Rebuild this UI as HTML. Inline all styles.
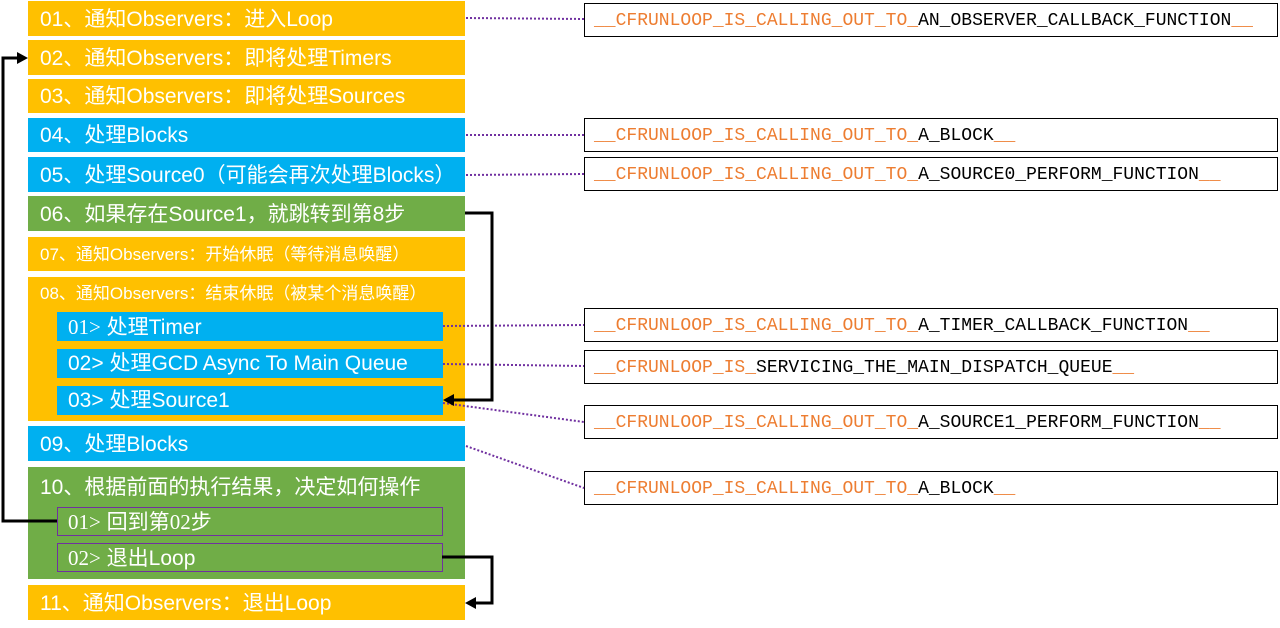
<!DOCTYPE html>
<html><head><meta charset="utf-8"><style>
body{margin:0;width:1280px;height:628px;background:#fff;position:relative;overflow:hidden;font-family:"Liberation Sans","Noto Sans CJK SC",sans-serif}
.b{position:absolute;left:28px;width:437px;color:#fff;font-size:21px;box-sizing:border-box;padding-left:12px;padding-top:2px;white-space:nowrap}
.o{background:#FFC000}.bl{background:#00B0F0}.g{background:#70AD47}
.s{position:absolute;left:57px;width:386px;color:#fff;font-size:21px;box-sizing:border-box;padding-left:11px;padding-top:1px;white-space:nowrap}
.r{position:absolute;left:584px;width:694px;height:34px;border:1.5px solid #000;box-sizing:border-box;font-family:"Liberation Mono",monospace;font-size:18px;line-height:31px;padding-left:9px;padding-top:2px;white-space:nowrap;color:#000}
.r span{color:#ED7D31}
svg{position:absolute;left:0;top:0}
</style></head><body>
<div class="b o" style="top:1px;height:35px;line-height:33px">01、通知Observers：进入Loop</div>
<div class="b o" style="top:40px;height:35px;line-height:33px">02、通知Observers：即将处理Timers</div>
<div class="b o" style="top:79px;height:34px;line-height:32px">03、通知Observers：即将处理Sources</div>
<div class="b bl" style="top:118px;height:34px;line-height:32px">04、处理Blocks</div>
<div class="b bl" style="top:157px;height:35px;line-height:33px">05、处理Source0（可能会再次处理Blocks）</div>
<div class="b g" style="top:196px;height:35px;line-height:33px">06、如果存在Source1，就跳转到第8步</div>
<div class="b o" style="top:237px;height:34px;line-height:32px;font-size:17px">07、通知Observers：开始休眠（等待消息唤醒）</div>
<div class="b o" style="top:277px;height:144px;line-height:30px;font-size:17px">08、通知Observers：结束休眠（被某个消息唤醒）</div>
<div class="s bl" style="top:312px;height:29px;line-height:28px"><span style="font-family:'Liberation Serif',serif">01&gt;</span> 处理Timer</div>
<div class="s bl" style="top:349px;height:29px;line-height:28px">02&gt; 处理GCD Async To Main Queue</div>
<div class="s bl" style="top:386px;height:29px;line-height:28px">03&gt; 处理Source1</div>
<div class="b bl" style="top:426px;height:35px;line-height:33px">09、处理Blocks</div>
<div class="b g" style="top:467px;height:112px;line-height:38px">10、根据前面的执行结果，决定如何操作</div>
<div class="s g" style="top:507px;height:29px;line-height:26px;border:1.5px solid #7030A0;width:386px;padding-left:10px"><span style="font-family:'Liberation Serif',serif">01&gt;</span> 回到第<span style="font-family:'Liberation Serif',serif">02</span>步</div>
<div class="s g" style="top:543px;height:29px;line-height:26px;border:1.5px solid #7030A0;width:386px;padding-left:10px"><span style="font-family:'Liberation Serif',serif">02&gt;</span> 退出Loop</div>
<div class="b o" style="top:585px;height:35px;line-height:33px">11、通知Observers：退出Loop</div>

<div class="r" style="top:3px"><span>__CFRUNLOOP_IS_CALLING_OUT_TO_</span>AN_OBSERVER_CALLBACK_FUNCTION<span>__</span></div>
<div class="r" style="top:118px"><span>__CFRUNLOOP_IS_CALLING_OUT_TO_</span>A_BLOCK<span>__</span></div>
<div class="r" style="top:157px"><span>__CFRUNLOOP_IS_CALLING_OUT_TO_</span>A_SOURCE0_PERFORM_FUNCTION<span>__</span></div>
<div class="r" style="top:308px"><span>__CFRUNLOOP_IS_CALLING_OUT_TO_</span>A_TIMER_CALLBACK_FUNCTION<span>__</span></div>
<div class="r" style="top:350px"><span>__CFRUNLOOP_IS_</span>SERVICING_THE_MAIN_DISPATCH_QUEUE<span>__</span></div>
<div class="r" style="top:405px"><span>__CFRUNLOOP_IS_CALLING_OUT_TO_</span>A_SOURCE1_PERFORM_FUNCTION<span>__</span></div>
<div class="r" style="top:471px"><span>__CFRUNLOOP_IS_CALLING_OUT_TO_</span>A_BLOCK<span>__</span></div>

<svg width="1280" height="628">
<g stroke="#7030A0" stroke-width="2" stroke-dasharray="2,2" fill="none">
<line x1="466" y1="18" x2="584" y2="19"/>
<line x1="466" y1="135" x2="584" y2="135"/>
<line x1="466" y1="175" x2="584" y2="174"/>
<line x1="443" y1="326" x2="584" y2="325"/>
<line x1="443" y1="364" x2="584" y2="366"/>
<line x1="443" y1="403" x2="584" y2="422"/>
<line x1="466" y1="446" x2="584" y2="488"/>
</g>
<g stroke="#000" stroke-width="3" fill="none">
<polyline points="465,213 492,213 492,400 452,400"/>
<polyline points="57,521 3,521 3,58 20,58"/>
<polyline points="442,557 492,557 492,603 474,603"/>
</g>
<g fill="#000">
<polygon points="443,400 454,394 454,406"/>
<polygon points="28,58 17,52 17,64"/>
<polygon points="465,603 476,597 476,609"/>
</g>
</svg>
</body></html>
